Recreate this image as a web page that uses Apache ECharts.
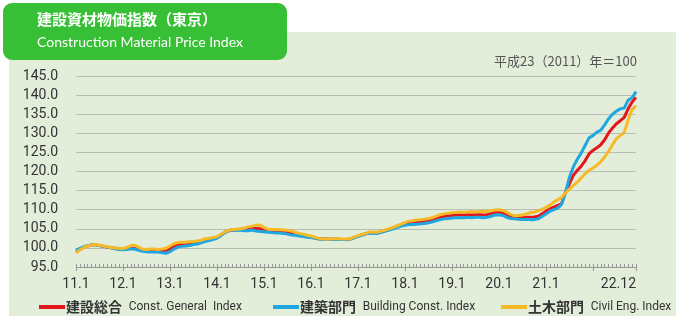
<!DOCTYPE html>
<html><head><meta charset="utf-8">
<script src="https://cdn.jsdelivr.net/npm/echarts@6/dist/echarts.min.js"></script>
<style>html,body{margin:0;padding:0;background:#fff;}#c{width:680px;height:334px;}</style>
</head><body><div id="c"></div>
<script>
// Months Jan 2011 .. Dec 2022
const months = [];
for (let y = 11; y <= 22; y++) for (let m = 1; m <= 12; m++) months.push(y + '.' + m);

const yTicks = [95, 100, 105, 110, 115, 120, 125, 130, 135, 140, 145];

const seriesNames = ['建設総合', '建築部門', '土木部門'];
const seriesEn = ['Const. General  Index', 'Building Const. Index', 'Civil Eng. Index'];

const generalIndex = [
98.9,99.6,100.2,100.5,100.8,100.8,100.6,100.4,100.2,100.0,99.9,99.7,
99.6,99.8,100.1,100.1,99.8,99.4,99.3,99.3,99.3,99.2,99.2,99.3,
99.8,100.4,100.8,101.0,101.1,101.2,101.4,101.5,101.7,102.1,102.3,102.5,
102.7,103.4,104.1,104.5,104.7,104.7,104.8,104.9,105.0,105.2,105.1,105.0,
104.8,104.5,104.4,104.3,104.3,104.2,104.1,103.9,103.7,103.4,103.3,103.0,
102.9,102.6,102.4,102.3,102.3,102.3,102.3,102.3,102.2,102.2,102.3,102.7,
103.1,103.4,103.7,104.0,103.9,103.9,104.2,104.5,104.8,105.2,105.5,105.9,
106.2,106.5,106.6,106.7,106.8,106.9,107.1,107.3,107.6,108.0,108.2,108.4,
108.5,108.6,108.6,108.6,108.7,108.6,108.7,108.7,108.6,108.7,109.0,109.3,
109.4,109.2,108.6,108.2,108.0,107.9,107.9,108.0,108.0,108.1,108.3,108.9,
109.6,110.2,110.7,111.1,111.6,114.6,116.8,119.0,120.3,121.4,122.8,124.6,
125.5,126.2,127.0,128.3,130.1,131.4,132.5,133.3,134.2,136.4,138.2,139.4
];
const buildingIndex = [
99.4,99.9,100.3,100.6,100.8,100.8,100.6,100.4,100.2,100.0,99.8,99.6,
99.5,99.6,99.8,99.7,99.4,99.1,99.0,98.9,98.9,98.9,98.7,98.6,
99.0,99.7,100.2,100.4,100.5,100.6,100.9,101.0,101.3,101.7,101.9,102.2,
102.5,103.2,104.0,104.5,104.7,104.6,104.6,104.5,104.5,104.7,104.4,104.3,
104.2,104.1,104.0,103.9,103.9,103.8,103.6,103.4,103.3,103.1,103.0,102.8,
102.7,102.5,102.3,102.2,102.3,102.3,102.2,102.2,102.2,102.1,102.3,102.6,
103.0,103.3,103.7,103.9,103.8,103.8,104.1,104.4,104.7,105.0,105.3,105.7,
105.9,106.1,106.1,106.2,106.3,106.4,106.6,106.8,107.1,107.4,107.6,107.7,
107.8,107.9,107.9,107.9,108.0,107.9,108.0,108.0,107.9,108.0,108.3,108.6,
108.7,108.5,108.0,107.7,107.6,107.5,107.4,107.5,107.4,107.4,107.6,108.2,
108.9,109.6,110.0,110.4,111.4,114.5,118.5,121.2,123.2,124.8,126.8,128.8,
129.4,130.3,130.8,132.2,133.8,135.0,135.8,136.4,136.6,138.7,139.3,140.9
];
const civilIndex = [
98.7,99.5,100.1,100.5,100.8,100.9,100.7,100.5,100.3,100.1,100.0,99.9,
99.8,100.1,100.6,100.7,100.2,99.7,99.6,99.7,99.7,99.6,99.7,99.9,
100.5,101.1,101.4,101.5,101.5,101.6,101.7,101.8,102.0,102.4,102.5,102.7,
102.9,103.5,104.2,104.6,104.8,104.9,105.0,105.2,105.5,105.7,105.9,106.0,
105.3,104.9,104.8,104.8,104.8,104.7,104.6,104.4,104.1,103.8,103.6,103.3,
103.1,102.8,102.5,102.3,102.3,102.4,102.4,102.4,102.3,102.3,102.4,102.8,
103.2,103.5,103.8,104.2,104.1,104.1,104.4,104.7,105.0,105.4,105.8,106.2,
106.6,107.0,107.1,107.3,107.4,107.5,107.7,107.9,108.3,108.7,108.9,109.1,
109.2,109.3,109.4,109.3,109.4,109.5,109.4,109.5,109.6,109.5,109.7,109.9,
110.0,109.8,109.3,108.8,108.4,108.5,108.6,108.9,109.2,109.4,109.7,110.1,
110.6,111.2,112.0,112.6,113.2,114.4,115.4,116.3,117.2,118.3,119.4,120.3,
120.9,121.6,122.6,123.8,125.3,127.0,128.6,129.4,130.2,133.5,136.2,137.2
];

const colors = ['#E2161B', '#1EA7E1', '#F6B927'];
const seriesData = [generalIndex, buildingIndex, civilIndex];

const jpFont = '"Noto Sans CJK JP", sans-serif';
const narrowFont = 'Roboto, "Noto Sans", sans-serif';

const chart = echarts.init(document.getElementById('c'), null, {renderer: 'canvas'});

const legendLefts = [34, 268, 496];
const legends = seriesNames.map((n, i) => ({
  show: true, left: legendLefts[i], top: 295, orient: 'horizontal',
  data: [n], itemWidth: 26, itemHeight: 4, icon: 'rect', itemGap: 2,
  selectedMode: false,
  formatter: name => '{jp|' + name + '}  {en|' + seriesEn[i] + '}',
  textStyle: {
    padding: [0, 0, 0, -4],
    rich: {
      jp: {fontFamily: jpFont, fontSize: 14, fontWeight: 'bold', color: '#333'},
      en: {fontFamily: narrowFont, fontSize: 12, color: '#333'}
    }
  }
}));

chart.setOption({
  animation: false,
  color: colors,
  graphic: [
    {type: 'rect', z: -10, shape: {x: 9, y: 32, width: 667, height: 284}, style: {fill: '#E3EEDA'}},
    {type: 'rect', z: 100, shape: {x: 3, y: 3, width: 284, height: 57, r: 9}, style: {fill: '#37BF35'}},
    {type: 'text', z: 101, left: 37, top: 12, style: {text: '建設資材物価指数（東京）', fill: '#fff', font: 'bold 15px "Noto Sans CJK JP", sans-serif'}},
    {type: 'text', z: 101, left: 37, top: 35, style: {text: 'Construction Material Price Index', fill: '#fff', font: '14px Lato, "Open Sans", sans-serif'}},
    {type: 'text', z: 101, right: 43, top: 55, style: {text: '平成23（2011）年＝100', fill: '#555', font: '13px "Noto Sans CJK JP", sans-serif'}}
  ],
  legend: legends,
  grid: {left: 76, right: 44, top: 76, bottom: 67},
  xAxis: [{
    type: 'category', data: months, boundaryGap: false,
    axisLine: {lineStyle: {color: '#999'}},
    axisTick: {interval: 0, inside: true, length: 3, lineStyle: {color: '#999'}},
    axisLabel: {
      interval: (i) => (i % 12 === 0 && i < 132) || i === months.length - 1,
      alignMaxLabel: 'right',
      color: '#333', fontFamily: narrowFont, fontSize: 14, margin: 10
    }
  }, {
    type: 'category', data: months, boundaryGap: false, position: 'bottom',
    axisLine: {show: false},
    axisTick: {interval: (i) => i % 12 === 0 || i === months.length - 1, length: 4, lineStyle: {color: '#999'}},
    axisLabel: {show: false}
  }],
  yAxis: {
    type: 'value', min: yTicks[0], max: yTicks[yTicks.length - 1], interval: 5,
    axisLine: {show: false}, axisTick: {show: false},
    axisLabel: {formatter: v => v.toFixed(1), color: '#333', fontFamily: narrowFont, fontSize: 14, margin: 18},
    splitLine: {lineStyle: {color: '#B9BDB5', width: 1}}
  },
  series: seriesNames.map((n, i) => ({
    name: n, type: 'line', xAxisIndex: 0, data: seriesData[i], symbol: 'none',
    lineStyle: {width: 3, color: colors[i]}, itemStyle: {color: colors[i]}, z: 2 + i
  }))
});
</script></body></html>
